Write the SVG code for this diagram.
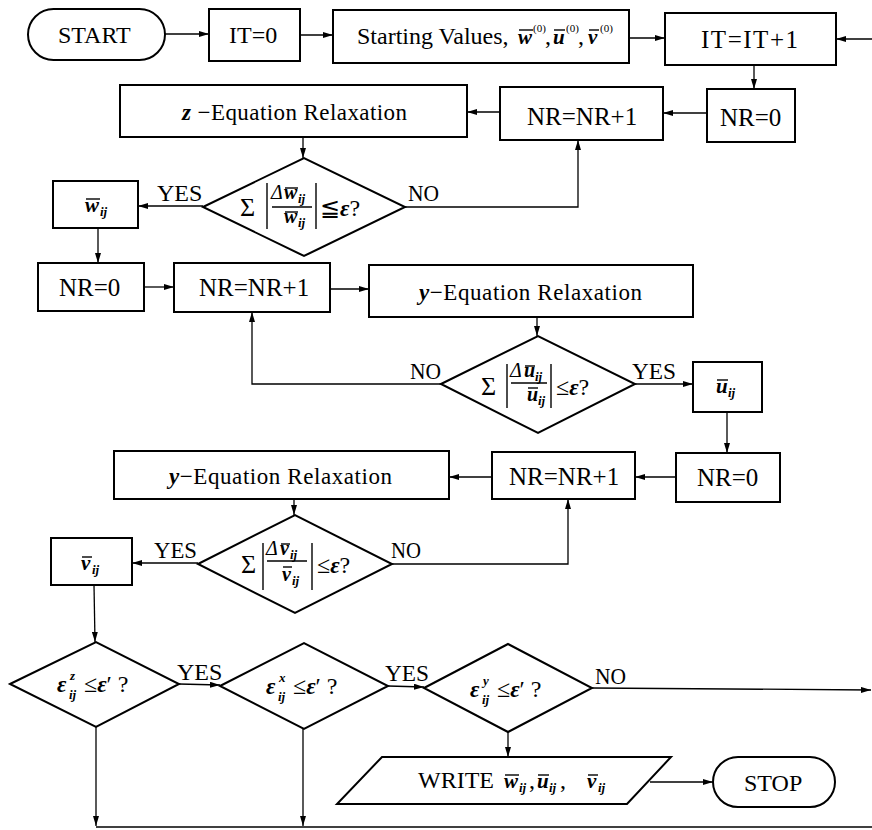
<svg xmlns="http://www.w3.org/2000/svg" width="872" height="830" viewBox="0 0 872 830">
<style>
.box{fill:#fff;stroke:#000;stroke-width:2}
.c{fill:none;stroke:#000;stroke-width:1.3}
.ln{stroke:#000;stroke-width:1.4}
.t{font-family:"Liberation Serif","Times New Roman",serif;font-size:24px;fill:#000}
.q{font-size:23px}
.n{font-size:25px}
.bi{font-style:italic;font-weight:bold;font-size:21px}
.it{font-style:italic}
.sg{font-size:26px}
.f{font-size:20px}
.sub{font-family:"Liberation Serif","Times New Roman",serif;font-style:italic;font-weight:bold;font-size:13px;fill:#000}
.sup{font-family:"Liberation Serif","Times New Roman",serif;font-size:11px;fill:#000}
.e{font-style:italic;font-weight:bold;font-size:23px}
</style>
<defs>
<marker id="ah" markerWidth="10" markerHeight="6" refX="10" refY="3" orient="auto" markerUnits="userSpaceOnUse"><path d="M0,0 L10,3 L0,6 z" fill="#000"/></marker>
</defs>
<rect width="872" height="830" fill="#fff"/>

<g id="connectors">
<line class="c" x1="165" y1="34" x2="209" y2="34" marker-end="url(#ah)"/>
<line class="c" x1="300" y1="35" x2="333" y2="35" marker-end="url(#ah)"/>
<line class="c" x1="629" y1="38" x2="665" y2="38" marker-end="url(#ah)"/>
<line class="c" x1="872" y1="39" x2="836" y2="39" marker-end="url(#ah)"/>
<line class="c" x1="754" y1="65" x2="754" y2="89" marker-end="url(#ah)"/>
<line class="c" x1="707" y1="113" x2="663" y2="113" marker-end="url(#ah)"/>
<line class="c" x1="500" y1="112" x2="467" y2="112" marker-end="url(#ah)"/>
<line class="c" x1="303" y1="137" x2="303" y2="158" marker-end="url(#ah)"/>
<line class="c" x1="203" y1="206" x2="138" y2="206" marker-end="url(#ah)"/>
<polyline class="c" points="405,207 578,207 578,140" marker-end="url(#ah)"/>
<line class="c" x1="98" y1="228" x2="98" y2="263" marker-end="url(#ah)"/>
<line class="c" x1="144" y1="287" x2="174" y2="287" marker-end="url(#ah)"/>
<line class="c" x1="330" y1="289" x2="369" y2="289" marker-end="url(#ah)"/>
<line class="c" x1="537" y1="317" x2="537" y2="336" marker-end="url(#ah)"/>
<polyline class="c" points="441,384 252,384 252,312" marker-end="url(#ah)"/>
<line class="c" x1="635" y1="384" x2="693" y2="384" marker-end="url(#ah)"/>
<line class="c" x1="727" y1="412" x2="727" y2="453" marker-end="url(#ah)"/>
<line class="c" x1="676" y1="477" x2="635" y2="477" marker-end="url(#ah)"/>
<line class="c" x1="492" y1="477" x2="449" y2="477" marker-end="url(#ah)"/>
<line class="c" x1="294" y1="499" x2="294" y2="515" marker-end="url(#ah)"/>
<line class="c" x1="198" y1="563" x2="132" y2="563" marker-end="url(#ah)"/>
<polyline class="c" points="392,564 568,564 568,499" marker-end="url(#ah)"/>
<line class="c" x1="94" y1="585" x2="95" y2="642" marker-end="url(#ah)"/>
<line class="c" x1="179" y1="684" x2="220" y2="685" marker-end="url(#ah)"/>
<line class="c" x1="388" y1="686" x2="424" y2="687" marker-end="url(#ah)"/>
<line class="c" x1="592" y1="688" x2="871" y2="690" marker-end="url(#ah)"/>
<line class="c" x1="508" y1="732" x2="508" y2="757" marker-end="url(#ah)"/>
<line class="c" x1="650" y1="782" x2="713" y2="782" marker-end="url(#ah)"/>
<line class="c" x1="96" y1="727" x2="96" y2="826" marker-end="url(#ah)"/>
<line class="c" x1="303" y1="729" x2="303" y2="826" marker-end="url(#ah)"/>
<line class="c" x1="96" y1="827" x2="872" y2="827"/>
</g>

<g id="labels">
<text class="t" x="157" y="201">YES</text>
<text class="t" x="408" y="201" textLength="31" lengthAdjust="spacingAndGlyphs">NO</text>
<text class="t" x="410" y="379" textLength="31" lengthAdjust="spacingAndGlyphs">NO</text>
<text class="t" x="632" y="379" textLength="44" lengthAdjust="spacingAndGlyphs">YES</text>
<text class="t" x="154" y="558" textLength="43" lengthAdjust="spacingAndGlyphs">YES</text>
<text class="t" x="391" y="558" textLength="30" lengthAdjust="spacingAndGlyphs">NO</text>
<text class="t" x="177" y="680">YES</text>
<text class="t" x="385" y="681" textLength="44" lengthAdjust="spacingAndGlyphs">YES</text>
<text class="t" x="595" y="684" textLength="31" lengthAdjust="spacingAndGlyphs">NO</text>
</g>

<g id="start">
<rect class="box" x="28" y="9" width="137" height="51" rx="25.5"/>
<text class="t" x="58" y="43">START</text>
</g>
<g id="it0">
<rect class="box" x="209" y="9" width="91" height="52"/>
<text class="t" x="229" y="43">IT=0</text>
</g>
<g id="starting-values">
<rect class="box" x="333" y="10" width="296" height="53"/>
<text class="t" x="357" y="44">Starting Values,</text>
<text class="t bi" x="518" y="44">w</text><line class="ln" x1="519" y1="30" x2="533" y2="30"/>
<text class="sup" x="533" y="32">(0)</text><text class="t" x="545" y="44">,</text>
<text class="t bi" x="553" y="44">u</text><line class="ln" x1="554" y1="30" x2="565" y2="30"/>
<text class="sup" x="566" y="32">(0)</text><text class="t" x="578" y="44">,</text>
<text class="t bi" x="588" y="44">v</text><line class="ln" x1="589" y1="30" x2="599" y2="30"/>
<text class="sup" x="600" y="32">(0)</text>
</g>
<g id="it-inc">
<rect class="box" x="665" y="13" width="171" height="52"/>
<text class="t n" x="701" y="48" textLength="97">IT=IT+1</text>
</g>
<g id="nr0-a">
<rect class="box" x="707" y="89" width="88" height="53"/>
<text class="t n" x="720" y="126">NR=0</text>
</g>
<g id="nr1-a">
<rect class="box" x="500" y="87" width="163" height="53"/>
<text class="t n" x="527" y="125">NR=NR+1</text>
</g>
<g id="z-eq">
<rect class="box" x="120" y="85" width="347" height="52"/>
<text class="t q" x="182" y="120" textLength="225"><tspan class="e">z</tspan> −Equation Relaxation</text>
</g>
<g id="d1">
<polygon class="box" points="203,207 304,158 405,207 304,256"/>
<text class="t sg" x="240" y="216">Σ</text>
<line class="ln" x1="267" y1="183" x2="267" y2="229"/>
<line class="ln" x1="316" y1="183" x2="316" y2="229"/>
<text class="t it f" x="271" y="199">Δ</text>
<text class="t bi f" x="284" y="199">w</text><text class="sub" x="298" y="203">ij</text>
<line class="ln" x1="285" y1="188" x2="298" y2="188"/>
<line class="ln" x1="272" y1="207" x2="312" y2="207"/>
<text class="t bi f" x="284" y="223">w</text><text class="sub" x="298" y="227">ij</text>
<line class="ln" x1="285" y1="212" x2="298" y2="212"/>
<text class="t" x="320" y="216">≦<tspan class="e">ε</tspan>?</text>
</g>
<g id="w-ij">
<rect class="box" x="53" y="181" width="85" height="47"/>
<text class="t bi" x="85" y="212">w</text><text class="sub" x="100" y="216">ij</text>
<line class="ln" x1="86" y1="199" x2="100" y2="199"/>
</g>
<g id="nr0-b">
<rect class="box" x="38" y="263" width="106" height="48"/>
<text class="t n" x="59" y="296">NR=0</text>
</g>
<g id="nr1-b">
<rect class="box" x="174" y="263" width="156" height="49"/>
<text class="t n" x="199" y="296">NR=NR+1</text>
</g>
<g id="y-eq-1">
<rect class="box" x="369" y="265" width="324" height="52"/>
<text class="t q" x="419" y="300" textLength="223"><tspan class="e">y</tspan>−Equation Relaxation</text>
</g>
<g id="d2">
<polygon class="box" points="441,384 538,336 635,384 538,433"/>
<text class="t sg" x="481" y="395">Σ</text>
<line class="ln" x1="507" y1="364" x2="507" y2="408"/>
<line class="ln" x1="551" y1="364" x2="551" y2="408"/>
<text class="t it f" x="510" y="377">Δ</text>
<text class="t bi f" x="524" y="377">u</text><text class="sub" x="535" y="381">ij</text>
<line class="ln" x1="525" y1="366" x2="535" y2="366"/>
<line class="ln" x1="511" y1="383" x2="547" y2="383"/>
<text class="t bi f" x="527" y="401">u</text><text class="sub" x="538" y="405">ij</text>
<line class="ln" x1="528" y1="388" x2="538" y2="388"/>
<text class="t" x="556" y="395">≤<tspan class="e">ε</tspan>?</text>
</g>
<g id="u-ij">
<rect class="box" x="693" y="362" width="69" height="50"/>
<text class="t bi" x="716" y="393">u</text><text class="sub" x="728" y="397">ij</text>
<line class="ln" x1="717" y1="380" x2="728" y2="380"/>
</g>
<g id="nr0-c">
<rect class="box" x="676" y="453" width="104" height="49"/>
<text class="t n" x="697" y="486">NR=0</text>
</g>
<g id="nr1-c">
<rect class="box" x="492" y="452" width="143" height="47"/>
<text class="t n" x="509" y="485">NR=NR+1</text>
</g>
<g id="y-eq-2">
<rect class="box" x="114" y="451" width="335" height="48"/>
<text class="t q" x="169" y="484" textLength="223"><tspan class="e">y</tspan>−Equation Relaxation</text>
</g>
<g id="d3">
<polygon class="box" points="198,564 295,515 392,564 295,613"/>
<text class="t sg" x="241" y="573">Σ</text>
<line class="ln" x1="263" y1="543" x2="263" y2="590"/>
<line class="ln" x1="312" y1="543" x2="312" y2="590"/>
<text class="t it f" x="266" y="555">Δ</text>
<text class="t bi f" x="280" y="555">v</text><text class="sub" x="290" y="559">ij</text>
<line class="ln" x1="281" y1="544" x2="290" y2="544"/>
<line class="ln" x1="267" y1="561" x2="307" y2="561"/>
<text class="t bi f" x="282" y="581">v</text><text class="sub" x="292" y="585">ij</text>
<line class="ln" x1="283" y1="567" x2="292" y2="567"/>
<text class="t" x="317" y="573">≤<tspan class="e">ε</tspan>?</text>
</g>
<g id="v-ij">
<rect class="box" x="51" y="538" width="81" height="47"/>
<text class="t bi" x="81" y="570">v</text><text class="sub" x="92" y="574">ij</text>
<line class="ln" x1="82" y1="557" x2="92" y2="557"/>
</g>
<g id="d4">
<polygon class="box" points="10,684 96,642 179,684 96,727"/>
<text class="t e" x="57" y="692">ε</text>
<text class="sub" x="70" y="680">z</text><text class="sub" x="69" y="699">ij</text>
<text class="t" x="84" y="692">≤<tspan class="e">ε</tspan>′ ?</text>
</g>
<g id="d5">
<polygon class="box" points="220,686 304,643 388,686 304,729"/>
<text class="t e" x="266" y="694">ε</text>
<text class="sub" x="279" y="682">x</text><text class="sub" x="278" y="701">ij</text>
<text class="t" x="293" y="694">≤<tspan class="e">ε</tspan>′ ?</text>
</g>
<g id="d6">
<polygon class="box" points="424,688 508,644 592,688 508,732"/>
<text class="t e" x="470" y="697">ε</text>
<text class="sub" x="483" y="685">y</text><text class="sub" x="482" y="704">ij</text>
<text class="t" x="497" y="697">≤<tspan class="e">ε</tspan>′ ?</text>
</g>
<g id="write">
<polygon class="box" points="382,757 671,757 627,804 337,804"/>
<text class="t" x="418" y="788">WRITE</text>
<text class="t bi" x="504" y="788">w</text><text class="sub" x="519" y="792">ij</text>
<line class="ln" x1="505" y1="775" x2="519" y2="775"/>
<text class="t" x="529" y="788">,</text>
<text class="t bi" x="537" y="788">u</text><text class="sub" x="549" y="792">ij</text>
<line class="ln" x1="538" y1="775" x2="549" y2="775"/>
<text class="t" x="560" y="788">,</text>
<text class="t bi" x="587" y="788">v</text><text class="sub" x="598" y="792">ij</text>
<line class="ln" x1="588" y1="775" x2="598" y2="775"/>
</g>
<g id="stop">
<rect class="box" x="713" y="757" width="122" height="50" rx="25"/>
<text class="t" x="744" y="791">STOP</text>
</g>
</svg>
